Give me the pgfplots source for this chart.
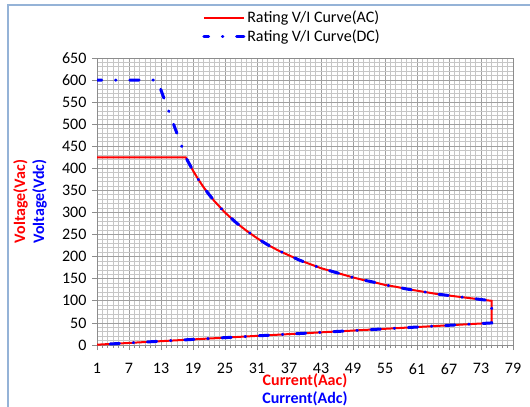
\documentclass[border=0pt]{standalone}
\usepackage{fontspec}
\setmainfont{Carlito}
\usepackage{pgfplots}
\pgfplotsset{compat=1.18}
\definecolor{framebl}{RGB}{149,179,215}
\begin{document}
\fontsize{12}{14.4}\selectfont
\begin{tikzpicture}
\useasboundingbox (0,0) rectangle (397.5pt,304.5pt);
% chart frame (left and top edges)
\draw[framebl, line width=1.1pt] (6pt,-5pt) -- (6pt,300.75pt) -- (405pt,300.75pt);
\begin{axis}[
  at={(72.75pt,45.75pt)}, anchor=south west,
  scale only axis, width=312pt, height=215.25pt,
  xmin=1, xmax=79, ymin=0, ymax=650,
  xtick={1,7,...,79}, ytick={0,50,...,650},
  minor x tick num=5, minor y tick num=4,
  grid=both,
  major grid style={gray!75, line width=0.6pt},
  minor grid style={gray!45, line width=0.6pt},
  axis line style={black!45, line width=0.6pt},
  tick style={black!45, line width=0.6pt},
  tick align=outside, xtick pos=bottom, ytick pos=left,
  major tick length=3.75pt, minor tick length=2.25pt,
  minor y tick style={draw=none},
  /pgf/number format/assume math mode=true,
  xticklabel style={yshift=-6pt},
  xlabel={\textcolor{red}{Current(Aac)}\\[-1pt]\textcolor{blue}{Current(Adc)}},
  xlabel style={font=\bfseries, align=center, at={(axis description cs:0.5,-0.155)}, anchor=center},
  ylabel={\textcolor{red}{Voltage(Vac)}\\\textcolor{blue}{Voltage(Vdc)}},
  ylabel style={font=\bfseries, align=center, at={(axis description cs:-0.161,0.5)}, anchor=center, rotate=0},
  legend style={at={(axis description cs:0.2525,1.1707)}, anchor=north west,
    draw=none, fill=none, inner sep=0pt, row sep=0pt, legend cell align=left,
    nodes={inner sep=1.5pt}},
  legend image code/.code={\draw[#1] (0pt,0pt) -- (30pt,0pt);},
]
\addplot[red, line width=1.5pt] coordinates {
(1,425) (17.65,425) (18,417) (19,395) (20,375) (21,357) (22,341) (23,326)
(24,313) (25,300) (27,278) (29,259) (31,242) (33,227) (35,214) (37,203)
(39,192) (41,183) (43,174) (45,167) (47,160) (49,153) (51,147) (53,142)
(55,136) (57,132) (59,127) (61,123) (63,119) (65,115) (67,112) (69,109)
(71,106) (73,103) (75,100) (75,50) (1,0.67)
};
\addlegendentry{Rating V/I Curve(AC)}
\addplot[blue, line width=2.25pt, line cap=round,
  dash pattern=on 7pt off 10.3pt on 0.4pt off 10.3pt, dash phase=3.4pt] coordinates {
(1,600) (12.3,600) (17.65,425) (18,417) (19,395) (20,375) (21,357) (22,341) (23,326)
(24,313) (25,300) (27,278) (29,259) (31,242) (33,227) (35,214) (37,203)
(39,192) (41,183) (43,174) (45,167) (47,160) (49,153) (51,147) (53,142)
(55,136) (57,132) (59,127) (61,123) (63,119) (65,115) (67,112) (69,109)
(71,106) (73,103) (75,100) (75,50) (1,0.67)
};
\addlegendentry{Rating V/I Curve(DC)}
\end{axis}
\end{tikzpicture}
\end{document}
